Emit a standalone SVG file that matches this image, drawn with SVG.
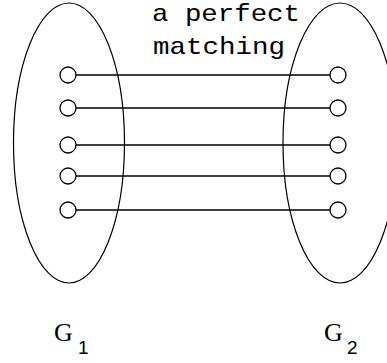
<svg xmlns="http://www.w3.org/2000/svg" width="387" height="363" viewBox="0 0 387 363">
<style>
.set{fill:none;stroke:#000;stroke-width:1.2}
.v{fill:#fff;stroke:#000;stroke-width:1.3}
.e{stroke:#000;stroke-width:1.3}
.lbl{font-family:"Liberation Mono",monospace;font-size:24px;fill:#000}
.g{font-family:"Liberation Serif",serif;font-size:26px;fill:#000}
.sub{font-family:"Liberation Sans",sans-serif;font-size:19px;fill:#000}
</style>
<rect width="387" height="363" fill="#fff"/>
<g id="G1-set"><ellipse class="set" cx="69" cy="143" rx="55.5" ry="140"/></g>
<g id="G2-set"><ellipse class="set" cx="340" cy="143" rx="57" ry="140"/></g>
<g id="connectors">
<line class="e" x1="76" y1="75" x2="330" y2="75"/>
<line class="e" x1="76" y1="108" x2="330" y2="108"/>
<line class="e" x1="76" y1="145" x2="330" y2="145"/>
<line class="e" x1="76" y1="176" x2="330" y2="176"/>
<line class="e" x1="76" y1="210" x2="330" y2="210"/>
</g>
<g id="u1"><circle class="v" cx="68" cy="75" r="8"/></g>
<g id="u2"><circle class="v" cx="68" cy="108" r="8"/></g>
<g id="u3"><circle class="v" cx="68" cy="145" r="8"/></g>
<g id="u4"><circle class="v" cx="68" cy="176" r="8"/></g>
<g id="u5"><circle class="v" cx="68" cy="210" r="8"/></g>
<g id="v1"><circle class="v" cx="338" cy="75" r="8"/></g>
<g id="v2"><circle class="v" cx="338" cy="108" r="8"/></g>
<g id="v3"><circle class="v" cx="338" cy="145" r="8"/></g>
<g id="v4"><circle class="v" cx="338" cy="176" r="8"/></g>
<g id="v5"><circle class="v" cx="338" cy="210" r="8"/></g>
<g id="label">
<text class="lbl" x="152" y="21" textLength="148" lengthAdjust="spacingAndGlyphs">a perfect</text>
<text class="lbl" x="153" y="54" textLength="132" lengthAdjust="spacingAndGlyphs">matching</text>
</g>
<g id="G1-label"><text class="g" x="54" y="341">G</text><text class="sub" x="78" y="354">1</text></g>
<g id="G2-label"><text class="g" x="324" y="341">G</text><text class="sub" x="347" y="354">2</text></g>
</svg>
